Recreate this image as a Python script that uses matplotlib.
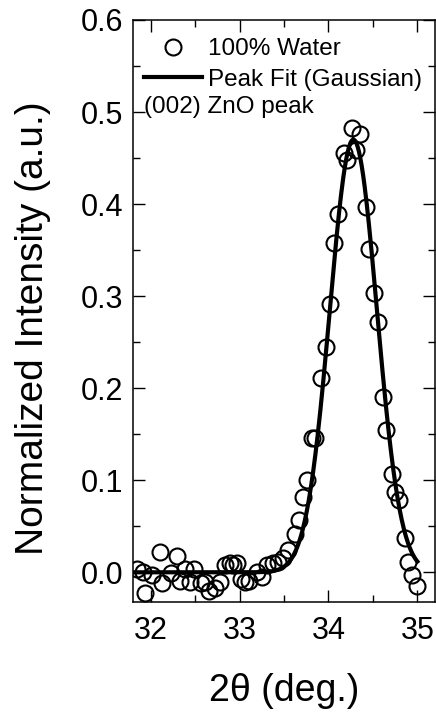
import numpy as np
import matplotlib
matplotlib.use("Agg")
import matplotlib.pyplot as plt
from matplotlib.ticker import MultipleLocator

plt.rcParams['font.family'] = ['Liberation Sans', 'DejaVu Sans']

# XRD scan around the (002) ZnO reflection, 100% water sample
two_theta = [31.84, 31.91, 31.93, 32.01, 32.10, 32.13, 32.23, 32.29, 32.33, 32.38,
             32.44, 32.49, 32.57, 32.61, 32.66, 32.72, 32.78, 32.83, 32.89, 32.92,
             32.97, 33.02, 33.06, 33.11, 33.19, 33.25, 33.31, 33.37, 33.43, 33.49,
             33.54, 33.62, 33.67, 33.71, 33.76, 33.81, 33.85, 33.92, 33.97, 34.02,
             34.06, 34.11, 34.17, 34.21, 34.26, 34.31, 34.36, 34.42, 34.46, 34.51,
             34.56, 34.61, 34.65, 34.71, 34.75, 34.79, 34.86, 34.89, 34.94, 35.00]
intensity = [0.004, 0.000, -0.023, -0.003, 0.022, -0.012, -0.001, 0.018, -0.009, 0.004,
             -0.011, 0.004, -0.012, -0.011, -0.020, -0.017, -0.011, 0.008, 0.010, 0.008,
             0.010, -0.007, -0.011, -0.009, 0.000, -0.005, 0.008, 0.010, 0.011, 0.016,
             0.024, 0.042, 0.057, 0.082, 0.100, 0.146, 0.146, 0.211, 0.245, 0.292,
             0.358, 0.389, 0.455, 0.448, 0.483, 0.459, 0.476, 0.397, 0.351, 0.303,
             0.272, 0.190, 0.155, 0.107, 0.087, 0.079, 0.037, 0.011, -0.003, -0.015]

# Gaussian peak-fit parameters
fit_center = 34.28
fit_amplitude = 0.47
fit_sigma = 0.265
fit_offset = 0.0
fit_range = (31.8, 35.0)

x_ticks = [32, 33, 34, 35]
y_ticks = [0.0, 0.1, 0.2, 0.3, 0.4, 0.5, 0.6]

fig = plt.figure(figsize=(4.36, 7.13), dpi=100)
ax = fig.add_axes([0.305, 0.156, 0.693, 0.816])

xf = np.linspace(fit_range[0], fit_range[1], 400)
yf = fit_offset + fit_amplitude * np.exp(-(xf - fit_center) ** 2 / (2 * fit_sigma ** 2))

pts, = ax.plot(two_theta, intensity, linestyle='none', marker='o', markersize=11.5,
               markerfacecolor='none', markeredgecolor='black', markeredgewidth=1.5,
               label='100% Water', zorder=3)
fit, = ax.plot(xf, yf, color='black', linewidth=3.0, label='Peak Fit (Gaussian)', zorder=2)

ax.set_xlim(31.8, 35.2)
ax.set_ylim(-0.032, 0.6)
ax.set_xticks(x_ticks)
ax.set_xticklabels([str(t) for t in x_ticks])
ax.set_yticks(y_ticks)
ax.set_yticklabels([f"{t:.1f}" for t in y_ticks])
ax.xaxis.set_minor_locator(MultipleLocator(0.5))
ax.yaxis.set_minor_locator(MultipleLocator(0.05))

ax.tick_params(which='both', direction='in', top=True, right=True, width=1.0,
               labelsize=22)
ax.tick_params(axis='x', pad=10)
ax.tick_params(axis='y', pad=7)
ax.tick_params(which='major', length=8.5)
ax.tick_params(which='minor', length=5)
for s in ax.spines.values():
    s.set_linewidth(1.1)

ax.set_xlabel('2θ (deg.)', fontsize=27, labelpad=20)
ax.set_ylabel('Normalized Intensity (a.u.)', fontsize=28)
ax.yaxis.set_label_coords(-0.272, 0.47)

leg = ax.legend(handles=[pts, fit], loc='upper left', frameon=False, fontsize=17.5,
                handlelength=2.4, handletextpad=0.25, labelspacing=0.34,
                borderaxespad=0.0, bbox_to_anchor=(0.003, 0.985))
ax.text(0.035, 0.85, '(002) ZnO peak', transform=ax.transAxes, fontsize=17.5,
        ha='left', va='center')

fig.savefig('out.png', dpi=100)
